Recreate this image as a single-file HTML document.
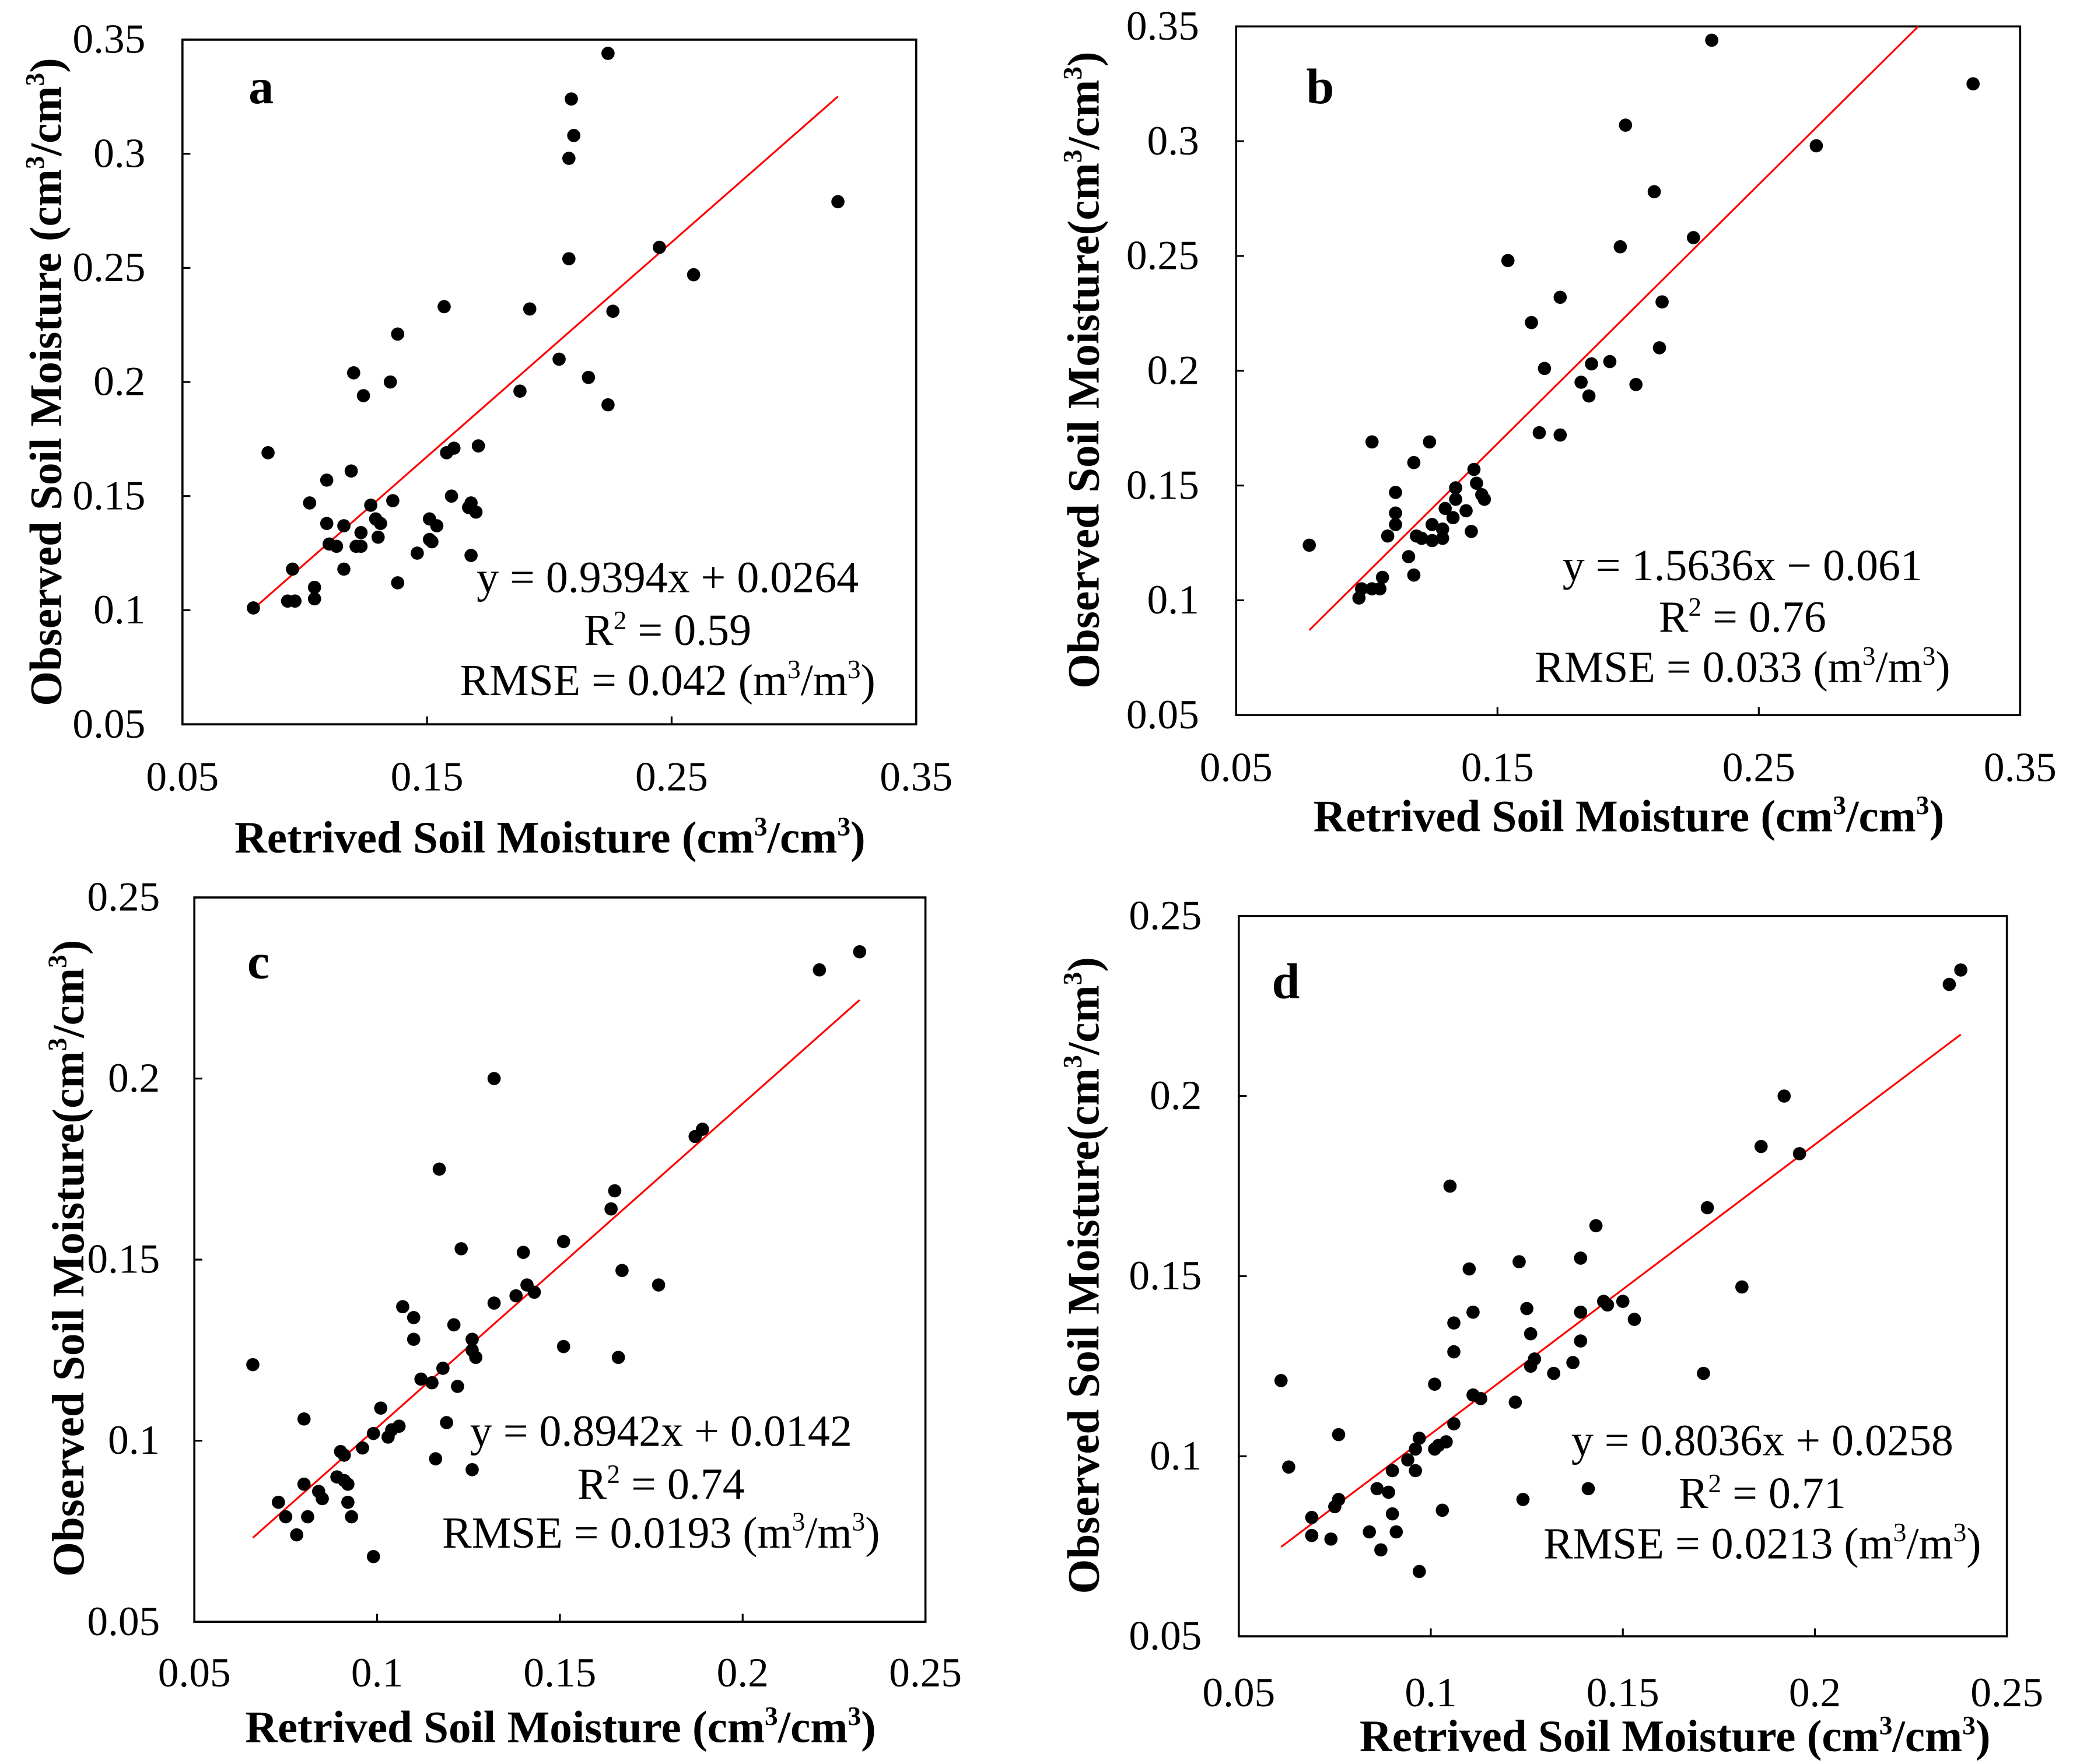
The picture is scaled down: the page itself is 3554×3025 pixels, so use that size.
<!DOCTYPE html>
<html><head><meta charset="utf-8"><style>
html,body{margin:0;padding:0;background:#fff;}
svg{display:block;}
text{font-family:"Liberation Serif",serif;fill:#000;}
</style></head><body>
<svg id="fig" width="3554" height="3025" viewBox="0 0 1568 1334.6" preserveAspectRatio="none" xmlns="http://www.w3.org/2000/svg"></svg>
<script>
// ---- Panel a data ----
const aX = [0.224,0.209,0.210,0.208,0.318,0.245,0.259,0.208,0.157,0.192,0.226,0.138,0.120,0.135,0.124,0.204,0.216,0.224,0.188,0.085,0.158,0.161,0.171,0.119,0.109,0.102,0.136,0.160,0.168,0.170,0.167,0.127,0.151,0.154,0.109,0.116,0.131,0.129,0.123,0.130,0.110,0.113,0.121,0.123,0.151,0.152,0.146,0.168,0.116,0.095,0.138,0.104,0.104,0.093,0.096,0.079];
const aY = [0.344,0.324,0.308,0.298,0.279,0.259,0.247,0.254,0.233,0.232,0.231,0.221,0.204,0.200,0.194,0.210,0.202,0.190,0.196,0.169,0.169,0.171,0.172,0.161,0.157,0.147,0.148,0.150,0.147,0.143,0.145,0.146,0.140,0.137,0.138,0.137,0.138,0.140,0.134,0.132,0.129,0.128,0.128,0.128,0.131,0.130,0.125,0.124,0.118,0.118,0.112,0.110,0.105,0.104,0.104,0.101];
const aLineX = [0.079,0.318];
const aLineY = [0.1006,0.3251];
const abTicks = [0.05,0.15,0.25,0.35];
const abTickLabels = ["0.05","0.15","0.25","0.35"];
const abYTicks = [0.05,0.1,0.15,0.2,0.25,0.3,0.35];
const abYTickLabels = ["0.05","0.1","0.15","0.2","0.25","0.3","0.35"];
// ---- Panel b data ----
const bX = [0.232,0.332,0.199,0.272,0.210,0.225,0.197,0.154,0.174,0.213,0.163,0.212,0.168,0.186,0.193,0.182,0.203,0.185,0.166,0.174,0.102,0.124,0.118,0.141,0.111,0.134,0.144,0.142,0.145,0.134,0.130,0.138,0.111,0.133,0.111,0.125,0.129,0.140,0.108,0.119,0.121,0.125,0.129,0.078,0.116,0.118,0.106,0.105,0.102,0.098,0.097];
const bY = [0.344,0.325,0.307,0.298,0.278,0.258,0.254,0.248,0.232,0.230,0.221,0.210,0.201,0.203,0.204,0.195,0.194,0.189,0.173,0.172,0.169,0.169,0.160,0.157,0.147,0.149,0.146,0.151,0.144,0.144,0.140,0.139,0.138,0.136,0.133,0.133,0.131,0.130,0.128,0.128,0.127,0.126,0.127,0.124,0.119,0.111,0.110,0.105,0.105,0.105,0.101];
const bLineX = [0.078,0.311];
const bLineY = [0.087,0.35];
// ---- Panel c data ----
const cX = [0.232,0.221,0.132,0.189,0.187,0.117,0.165,0.164,0.151,0.123,0.140,0.167,0.177,0.141,0.143,0.138,0.132,0.107,0.110,0.121,0.110,0.126,0.126,0.151,0.127,0.166,0.066,0.118,0.112,0.115,0.122,0.101,0.080,0.119,0.106,0.104,0.099,0.103,0.096,0.090,0.091,0.116,0.126,0.089,0.091,0.092,0.080,0.084,0.085,0.092,0.073,0.075,0.081,0.093,0.078,0.099];
const cY = [0.235,0.230,0.200,0.186,0.184,0.175,0.169,0.164,0.155,0.153,0.152,0.147,0.143,0.143,0.141,0.140,0.138,0.137,0.134,0.132,0.128,0.128,0.125,0.126,0.123,0.123,0.121,0.120,0.117,0.116,0.115,0.109,0.106,0.105,0.104,0.103,0.102,0.101,0.098,0.097,0.096,0.095,0.092,0.090,0.089,0.088,0.088,0.086,0.084,0.083,0.083,0.079,0.079,0.079,0.074,0.068];
const cLineX = [0.066,0.232];
const cLineY = [0.0732,0.2217];
const cdTicks = [0.05,0.1,0.15,0.2,0.25];
const cdTickLabels = ["0.05","0.1","0.15","0.2","0.25"];
// ---- Panel d data ----
const dX = [0.238,0.235,0.192,0.186,0.196,0.105,0.172,0.143,0.123,0.139,0.110,0.181,0.145,0.150,0.146,0.153,0.125,0.139,0.111,0.106,0.126,0.139,0.106,0.127,0.126,0.137,0.132,0.171,0.061,0.101,0.111,0.113,0.122,0.106,0.076,0.097,0.104,0.102,0.101,0.096,0.094,0.063,0.090,0.096,0.141,0.086,0.089,0.076,0.075,0.124,0.069,0.090,0.103,0.091,0.084,0.069,0.074,0.087,0.097];
const dY = [0.235,0.231,0.200,0.186,0.184,0.175,0.169,0.164,0.154,0.155,0.152,0.147,0.143,0.143,0.142,0.138,0.141,0.140,0.140,0.137,0.134,0.132,0.129,0.127,0.125,0.126,0.123,0.123,0.121,0.120,0.117,0.116,0.115,0.109,0.106,0.105,0.104,0.103,0.102,0.102,0.099,0.097,0.096,0.096,0.091,0.091,0.090,0.088,0.086,0.088,0.083,0.084,0.085,0.079,0.079,0.078,0.077,0.074,0.068];
const dLineX = [0.061,0.238];
const dLineY = [0.0748,0.2171];

const NS = "http://www.w3.org/2000/svg";
const svg = document.getElementById('fig');
function mk(tag, attrs, parent){
  const e = document.createElementNS(NS, tag);
  for (const k in attrs) e.setAttribute(k, attrs[k]);
  (parent||svg).appendChild(e);
  return e;
}
function txt(parent, x, y, s, size, opts){
  const t = mk('text', {x:x, y:y, 'font-size':size}, parent);
  if (opts && opts.anchor) t.setAttribute('text-anchor', opts.anchor);
  if (opts && opts.bold) t.setAttribute('font-weight', 'bold');
  if (opts && opts.rot) t.setAttribute('transform', opts.rot);
  t.innerHTML = s;
  return t;
}
const SUP = (c) => '<tspan font-size="20" dy="-13">' + c + '</tspan>';
function panel(cfg){
  const g = mk('g', {});
  
  
  const sx = v => cfg.L + (v - cfg.xmin) / (cfg.xmax - cfg.xmin) * (cfg.R - cfg.L);
  const sy = v => cfg.B - (v - cfg.ymin) / (cfg.ymax - cfg.ymin) * (cfg.B - cfg.T);
  const frame = mk('rect', {x:cfg.L, y:cfg.T, width:cfg.R-cfg.L, height:cfg.B-cfg.T, fill:'none', stroke:'#000', 'stroke-width':1.6}, g);
  
  
  cfg.xt.forEach((v,i) => {
    const x = sx(v);
    mk('line', {x1:x, x2:x, y1:cfg.B, y2:cfg.B-6, stroke:'#000', 'stroke-width':1.4}, g);
    const t = txt(g, x, cfg.B + cfg.xlabOff, cfg.xtl[i], 31.5, {anchor:'middle'});
    
    
  });
  cfg.yt.forEach((v,i) => {
    const y = sy(v);
    mk('line', {x1:cfg.L, x2:cfg.L+6, y1:y, y2:y, stroke:'#000', 'stroke-width':1.4}, g);
    const t = txt(g, cfg.L - cfg.ylabOff, y + 10, cfg.ytl[i], 31.5, {anchor:'end'});
    
    
  });
  const xt = txt(g, cfg.xtx, cfg.xty, 'Retrived Soil Moisture (cm' + SUP(3) + '<tspan dy="13">/cm</tspan>' + SUP(3) + '<tspan dy="13">)</tspan>', 34, {anchor:'middle', bold:true});
  
  
  const yt = txt(g, 0, 0, 'Observed Soil Moisture' + cfg.ysp + '(cm' + SUP(3) + '<tspan dy="13">/cm</tspan>' + SUP(3) + '<tspan dy="13">)</tspan>', 34, {anchor:'middle', bold:true, rot:'translate(' + cfg.ytx + ',' + cfg.yty + ') rotate(-90)'});
  
  
  const lt = txt(g, cfg.lx, cfg.ly, cfg.id, 38, {bold:true});
  
  
  const fit = mk('line', {x1:sx(cfg.lineX[0]), y1:sy(cfg.lineY[0]), x2:sx(cfg.lineX[1]), y2:sy(cfg.lineY[1]), stroke:'#ff0000', 'stroke-width':1.4}, g);
  
  
  cfg.px.forEach((v,i) => {
    const c = mk('circle', {cx:sx(v), cy:sy(cfg.py[i]), r:5, fill:'#000'}, g);
    
    
  });
  const e1 = txt(g, cfg.ex, cfg.ey[0], cfg.eq, 33.5, {anchor:'middle'});
  
  
  const e2 = txt(g, cfg.ex, cfg.ey[1], 'R<tspan font-size="20" dy="-12">2</tspan><tspan dy="12"> = ' + cfg.r2 + '</tspan>', 33.5, {anchor:'middle'});
  
  
  const e3 = txt(g, cfg.ex, cfg.ey[2], 'RMSE = ' + cfg.rmse + ' (m' + SUP(3) + '<tspan dy="13">/m</tspan>' + SUP(3) + '<tspan dy="13">)</tspan>', 33.5, {anchor:'middle'});
  
  
}
panel({id:'a', L:138, T:30, R:693, B:548, xmin:0.05, xmax:0.35, ymin:0.05, ymax:0.35,
  xt:abTicks, xtl:abTickLabels, yt:abYTicks, ytl:abYTickLabels, xlabOff:50, ylabOff:28,
  xtx:416, xty:645, ytx:46, yty:289, ysp:' ', lx:188, ly:78,
  lineX:aLineX, lineY:aLineY, px:aX, py:aY,
  ex:505, ey:[448,488,526], eq:'y = 0.9394x + 0.0264', r2:'0.59', rmse:'0.042'});
panel({id:'b', L:935, T:20, R:1528, B:541, xmin:0.05, xmax:0.35, ymin:0.05, ymax:0.35,
  xt:abTicks, xtl:abTickLabels, yt:abYTicks, ytl:abYTickLabels, xlabOff:50, ylabOff:28,
  xtx:1232, xty:629, ytx:831, yty:280, ysp:'', lx:988, ly:78,
  lineX:bLineX, lineY:bLineY, px:bX, py:bY,
  ex:1318, ey:[439,478,516], eq:'y = 1.5636x \u2212 0.061', r2:'0.76', rmse:'0.033'});
panel({id:'c', L:147, T:679, R:700, B:1227, xmin:0.05, xmax:0.25, ymin:0.05, ymax:0.25,
  xt:cdTicks, xtl:cdTickLabels, yt:cdTicks, ytl:cdTickLabels, xlabOff:49, ylabOff:26,
  xtx:424, xty:1318, ytx:63, yty:952, ysp:'', lx:187, ly:740,
  lineX:cLineX, lineY:cLineY, px:cX, py:cY,
  ex:500, ey:[1094,1134,1171], eq:'y = 0.8942x + 0.0142', r2:'0.74', rmse:'0.0193'});
panel({id:'d', L:937, T:693, R:1518, B:1238, xmin:0.05, xmax:0.25, ymin:0.05, ymax:0.25,
  xt:cdTicks, xtl:cdTickLabels, yt:cdTicks, ytl:cdTickLabels, xlabOff:53, ylabOff:28,
  xtx:1267, xty:1325, ytx:831, yty:965, ysp:'', lx:962, ly:755,
  lineX:dLineX, lineY:dLineY, px:dX, py:dY,
  ex:1333, ey:[1101,1141,1179], eq:'y = 0.8036x + 0.0258', r2:'0.71', rmse:'0.0213'});
</script>
</body></html>
